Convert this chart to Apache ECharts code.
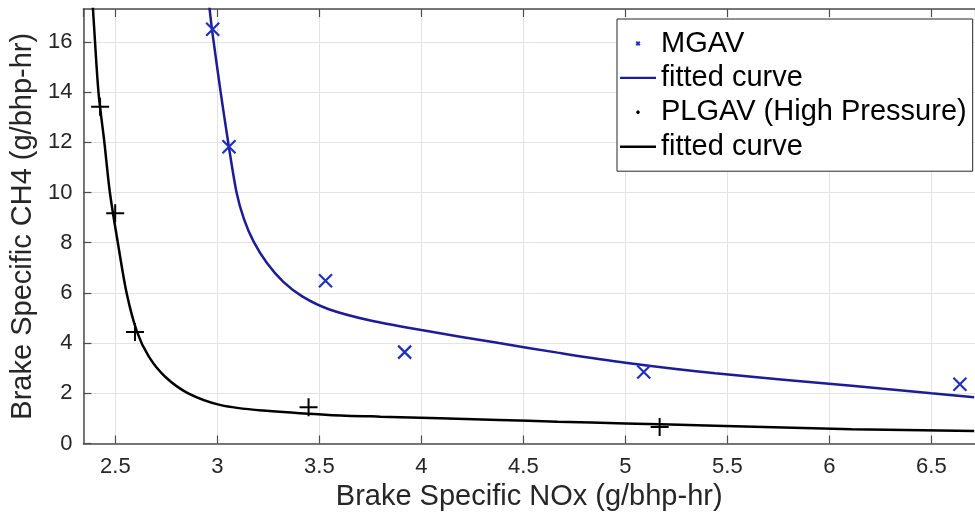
<!DOCTYPE html>
<html><head><meta charset="utf-8">
<script src="https://cdn.jsdelivr.net/npm/echarts@6/dist/echarts.min.js"></script>
<style>html,body{margin:0;padding:0;background:#fff}#c{width:975px;height:519px}</style>
</head><body><div id="c"></div>
<script>
// ---- data ----
const mgavX = [2.977, 3.057, 3.53, 3.918, 5.09, 6.64];
const mgavY = [16.5, 11.82, 6.48, 3.64, 2.85, 2.36];
const plgavX = [2.425, 2.499, 2.596, 3.447, 5.168];
const plgavY = [13.42, 9.17, 4.44, 1.44, 0.66];
const fitBlueX = [2.955, 2.962, 2.975, 3.016, 3.051, 3.094, 3.13, 3.177, 3.242, 3.322, 3.418, 3.546, 3.75, 4.0, 4.38, 4.668, 5.0, 5.44, 6.11, 6.5, 6.71];
const fitBlueY = [17.8, 17.3, 16.4, 14.0, 12.1, 10.0, 8.95, 8.05, 7.2, 6.45, 5.85, 5.35, 4.9, 4.52, 4.0, 3.62, 3.22, 2.8, 2.3, 2.0, 1.84];
const fitBlackX = [2.386, 2.39, 2.417, 2.446, 2.473, 2.512, 2.555, 2.606, 2.664, 2.744, 2.857, 3.017, 3.225, 3.546, 3.8, 4.38, 4.668, 5.0, 5.44, 6.11, 6.71];
const fitBlackY = [17.6, 17.3, 14.0, 12.0, 10.0, 8.0, 6.0, 4.45, 3.46, 2.66, 2.0, 1.53, 1.31, 1.14, 1.07, 0.94, 0.87, 0.80, 0.71, 0.57, 0.50];
const seriesNames = ['MGAV', 'fitted curve', 'PLGAV (High Pressure)', 'fitted curve '];
const xTitle = 'Brake Specific NOx (g/bhp-hr)';
const yTitle = 'Brake Specific CH4 (g/bhp-hr)';

const zip = (a, b) => a.map((v, i) => [v, b[i]]);
const FONT = 'Liberation Sans, Arial, sans-serif';
const AX = '#4d4d4d';
const BLUE_M = '#1f2fc0';
const BLUE_L = '#1c1c98';
const xMin = 2.343, xMax = 6.714;

const xMark = 'path://M0 0L10 10M10 0L0 10';
const plusMark = 'path://M5 0L5 10M0 5L10 5';
const xMarkSmall = 'path://M0 0M20 20M7.5 7.5L12.5 12.5M12.5 7.5L7.5 12.5';
const plusMarkSmall = 'path://M0 0M20 20M10 7.5L10 12.5M7.5 10L12.5 10';
const lineIcon = 'path://M0 0M36 14M0 5.8L36 5.8L36 8.2L0 8.2Z';

const chart = echarts.init(document.getElementById('c'), null, {renderer: 'canvas'});
chart.setOption({
  backgroundColor: '#fff',
  animation: false,
  textStyle: {fontFamily: FONT},
  grid: {left: 77, right: -10, top: 9, bottom: 75.5, containLabel: false},
  xAxis: [{
    type: 'value', min: xMin, max: xMax, splitNumber: 9, position: 'bottom',
    name: xTitle, nameLocation: 'middle', nameGap: 36,
    nameTextStyle: {fontSize: 29, color: '#262626', fontFamily: FONT},
    axisLine: {show: true, lineStyle: {color: AX, width: 1.5}},
    axisTick: {show: true, inside: true, length: 8, lineStyle: {color: AX, width: 1.2}},
    axisLabel: {fontSize: 22, color: '#262626', margin: 12, interval: 0, showMinLabel: false, showMaxLabel: false, fontFamily: FONT},
    splitLine: {show: true, lineStyle: {color: '#e3e3e3', width: 1}}
  }, {
    type: 'value', min: xMin, max: xMax, splitNumber: 9, position: 'top',
    axisLine: {show: true, onZero: false, lineStyle: {color: AX, width: 1.5}},
    axisTick: {show: true, inside: true, length: 8, lineStyle: {color: AX, width: 1.2}},
    axisLabel: {show: false}, splitLine: {show: false}
  }],
  yAxis: {
    type: 'value', min: 0, max: 17.31, interval: 2,
    name: yTitle, nameLocation: 'middle', nameGap: 32,
    nameTextStyle: {fontSize: 29, color: '#262626', fontFamily: FONT},
    axisLine: {show: true, lineStyle: {color: AX, width: 1.5}},
    axisTick: {show: true, inside: true, length: 8, lineStyle: {color: AX, width: 1.2}},
    axisLabel: {fontSize: 22, color: '#262626', margin: 11, showMaxLabel: false, fontFamily: FONT},
    splitLine: {show: true, lineStyle: {color: '#e3e3e3', width: 1}}
  },
  legend: {
    orient: 'vertical', left: 617, top: 19,
    padding: [10, 6, 10, 3], itemGap: 5.4, itemWidth: 36, itemHeight: 14,
    borderColor: '#262626', borderWidth: 1, backgroundColor: '#fff',
    textStyle: {fontSize: 29, color: '#000', fontFamily: FONT},
    data: [
      {name: seriesNames[0], icon: xMarkSmall},
      {name: seriesNames[1], icon: lineIcon},
      {name: seriesNames[2], icon: plusMarkSmall},
      {name: seriesNames[3], icon: lineIcon}
    ]
  },
  series: [
    {
      name: seriesNames[1], type: 'line', data: zip(fitBlueX, fitBlueY),
      smooth: 0.3, symbol: 'none', clip: true,
      lineStyle: {color: BLUE_L, width: 2.5}, itemStyle: {color: BLUE_L}, z: 2
    },
    {
      name: seriesNames[3], type: 'line', data: zip(fitBlackX, fitBlackY),
      smooth: 0.3, symbol: 'none', clip: true,
      lineStyle: {color: '#000', width: 2.5}, itemStyle: {color: '#000'}, z: 2
    },
    {
      name: seriesNames[0], type: 'scatter', data: zip(mgavX, mgavY),
      symbol: xMark, symbolSize: 13,
      itemStyle: {color: BLUE_M, borderColor: BLUE_M, borderWidth: 2.2, opacity: 1}, z: 3
    },
    {
      name: seriesNames[2], type: 'scatter', data: zip(plgavX, plgavY),
      symbol: plusMark, symbolSize: 18,
      itemStyle: {color: '#000', borderColor: '#000', borderWidth: 2, opacity: 1}, z: 3
    }
  ]
});
</script></body></html>
